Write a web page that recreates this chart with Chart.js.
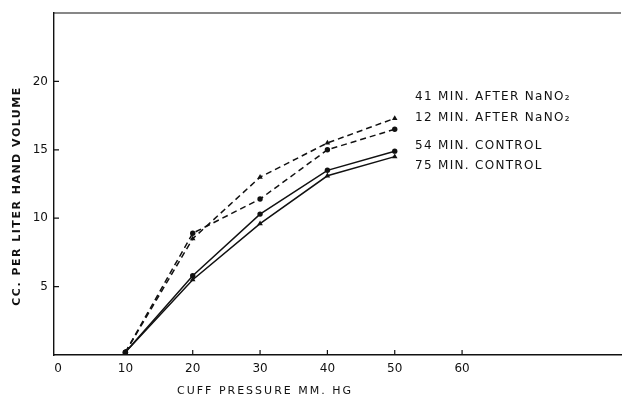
<!DOCTYPE html>
<html>
<head>
<meta charset="utf-8">
<script src="https://cdn.jsdelivr.net/npm/chart.js@4"></script>
<style>
  html, body { margin: 0; padding: 0; background: #fff; }
  #wrap { width: 625px; height: 402px; }
</style>
</head>
<body>
<div id="wrap"><canvas id="chart"></canvas></div>
<script>
// values
const pressure = [10, 20, 30, 40, 50];
const after41 = [0.2, 8.5, 13.0, 15.5, 17.3];
const after12 = [0.2, 8.9, 11.4, 15.0, 16.5];
const control54 = [0.2, 5.8, 10.3, 13.5, 14.9];
const control75 = [0.2, 5.5, 9.6, 13.1, 14.5];
const xTicks = [0, 10, 20, 30, 40, 50, 60];
const yTicks = [5, 10, 15, 20];
const seriesNames = ["41 MIN. AFTER NaNO\u2082", "12 MIN. AFTER NaNO\u2082", "54 MIN. CONTROL", "75 MIN. CONTROL"];
const xTitle = "CUFF PRESSURE MM. HG";
const yTitle = "CC. PER LITER HAND VOLUME";

const ink = "#111";
const font = "'DejaVu Sans', sans-serif";

function pts(vals) {
    return pressure.map((p, i) => ({ x: p, y: vals[i] }));
}

function series(vals, dashed, shape) {
    return {
        data: pts(vals),
        borderColor: ink,
        backgroundColor: ink,
        borderWidth: 1.5,
        borderDash: dashed ? [6, 4] : [],
        pointStyle: shape,
        pointRadius: shape === "triangle" ? 3.2 : 2.7,
        pointBorderWidth: 0,
        tension: 0
    };
}

// inward ticks, y labels, top frame line and all free text
const decor = {
    id: "decor",
    afterDraw(chart) {
        const ctx = chart.ctx;
        const a = chart.chartArea;
        const xs = chart.scales.x, ys = chart.scales.y;
        ctx.save();
        ctx.strokeStyle = ink;
        ctx.lineWidth = 1.2;
        ctx.beginPath();
        ctx.moveTo(a.left, a.top);
        ctx.lineTo(a.right, a.top);
        for (const v of xTicks.slice(1)) {
            const px = xs.getPixelForValue(v);
            ctx.moveTo(px, a.bottom);
            ctx.lineTo(px, a.bottom - 5);
        }
        for (const v of yTicks) {
            const py = ys.getPixelForValue(v);
            ctx.moveTo(a.left, py);
            ctx.lineTo(a.left + 5, py);
        }
        ctx.stroke();

        ctx.fillStyle = ink;
        ctx.textBaseline = "middle";
        ctx.font = "12px " + font;
        ctx.textAlign = "right";
        for (const v of yTicks) {
            ctx.fillText(String(v), a.left - 6, ys.getPixelForValue(v));
        }

        ctx.textAlign = "left";
        ctx.letterSpacing = "1.3px";
        const legendY = [97, 118, 146, 166];
        seriesNames.forEach((s, i) => ctx.fillText(s, 415, legendY[i]));

        ctx.font = "11px " + font;
        ctx.letterSpacing = "2px";
        ctx.textAlign = "center";
        ctx.fillText(xTitle, 265, 391);
        ctx.translate(17, 196);
        ctx.rotate(-Math.PI / 2);
        ctx.font = "bold 11px " + font;
        ctx.letterSpacing = "1.5px";
        ctx.fillText(yTitle, 0, 0);
        ctx.restore();
    }
};

new Chart(document.getElementById("chart"), {
    type: "line",
    data: {
        datasets: [
            series(after41, true, "triangle"),
            series(after12, true, "circle"),
            series(control54, false, "circle"),
            series(control75, false, "triangle")
        ]
    },
    options: {
        responsive: true,
        maintainAspectRatio: false,
        animation: false,
        layout: { padding: { top: 13, right: 0, left: 0, bottom: 0 } },
        plugins: { legend: { display: false }, tooltip: { enabled: false } },
        scales: {
            x: {
                type: "linear",
                min: -0.6,
                max: 83.6,
                afterBuildTicks: s => { s.ticks = xTicks.map(v => ({ value: v })); },
                afterFit: s => { s.height = 47; },
                grid: { display: false, drawTicks: false },
                border: { display: true, color: ink, width: 1.4 },
                ticks: { color: ink, font: { family: font, size: 12 }, padding: 7, maxRotation: 0 }
            },
            y: {
                min: 0,
                max: 25,
                afterBuildTicks: s => { s.ticks = yTicks.map(v => ({ value: v })); },
                afterFit: s => { s.width = 54; },
                grid: { display: false, drawTicks: false },
                border: { display: true, color: ink, width: 1.4 },
                ticks: { display: false }
            }
        }
    },
    plugins: [decor]
});
</script>
</body>
</html>
